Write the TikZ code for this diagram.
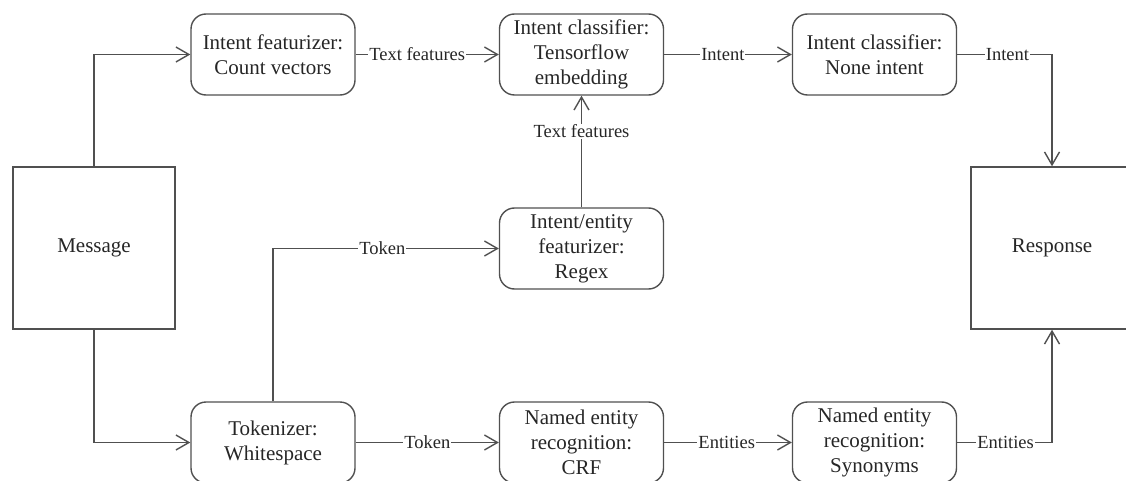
\documentclass[tikz,border=0pt]{standalone}
\usepackage{fontspec}
\setmainfont{Liberation Serif}
\usetikzlibrary{arrows.meta}

\definecolor{linegray}{HTML}{505050}
\definecolor{textgray}{HTML}{262626}

\begin{document}
\begin{tikzpicture}[x=1pt, y=-1pt,
  stage/.style={draw=linegray, line width=1.4pt, rounded corners=15pt,
    minimum width=164pt, minimum height=81pt, inner sep=0pt, align=center,
    text=textgray, font=\fontsize{21}{25}\selectfont},
  endpoint/.style={draw=linegray, line width=1.4pt,
    minimum width=162pt, minimum height=162pt, inner sep=0pt,
    text=textgray, font=\fontsize{21}{25}\selectfont},
  flow/.style={draw=linegray, line width=1.4pt,
    -{Straight Barb[length=13pt, width=15pt, line width=1.4pt]}},
  tag/.style={fill=white, inner sep=1pt, text=textgray,
    font=\fontsize{18.5}{22}\selectfont}]

\useasboundingbox (0,0) rectangle (1126,481);

% end points of the pipeline
\node[endpoint] (msg)  at (94,248)   {Message};
\node[endpoint] (resp) at (1052,248) {Response};

% processing stages
\node[stage] (feat)  at (273,54.5)   {Intent featurizer:\\Count vectors};
\node[stage] (tf)    at (581.5,54.5) {Intent classifier:\\Tensorflow\\embedding};
\node[stage] (none)  at (874.5,54.5) {Intent classifier:\\None intent};
\node[stage] (regex) at (581.5,248.5) {Intent/entity\\featurizer:\\Regex};
\node[stage] (tok)   at (273,442.5)  {Tokenizer:\\Whitespace};
\node[stage] (crf)   at (581.5,442.5) {Named entity\\recognition:\\CRF};
\node[stage] (syn)   at (874.5,442.5) {Named entity\\recognition:\\Synonyms};

% connectors
\draw[flow] (msg.north) |- (feat.west);
\draw[flow] (msg.south) |- (tok.west);
\draw[flow] (feat.east) -- node[tag, pos=0.43] {Text features} (tf.west);
\draw[flow] (tf.east) -- node[tag, pos=0.46] {Intent} (none.west);
\draw[flow] (none.east) -| node[tag, pos=0.265] {Intent} (resp.north);
\draw[flow] (regex.north) -- node[tag, pos=0.68] {Text features} (tf.south);
\draw[flow] (tok.north) |- node[tag, pos=0.742] {Token} (regex.west);
\draw[flow] (tok.east) -- node[tag, pos=0.5] {Token} (crf.west);
\draw[flow] (crf.east) -- node[tag, pos=0.49] {Entities} (syn.west);
\draw[flow] (syn.east) -| node[tag, pos=0.255] {Entities} (resp.south);

\end{tikzpicture}
\end{document}
